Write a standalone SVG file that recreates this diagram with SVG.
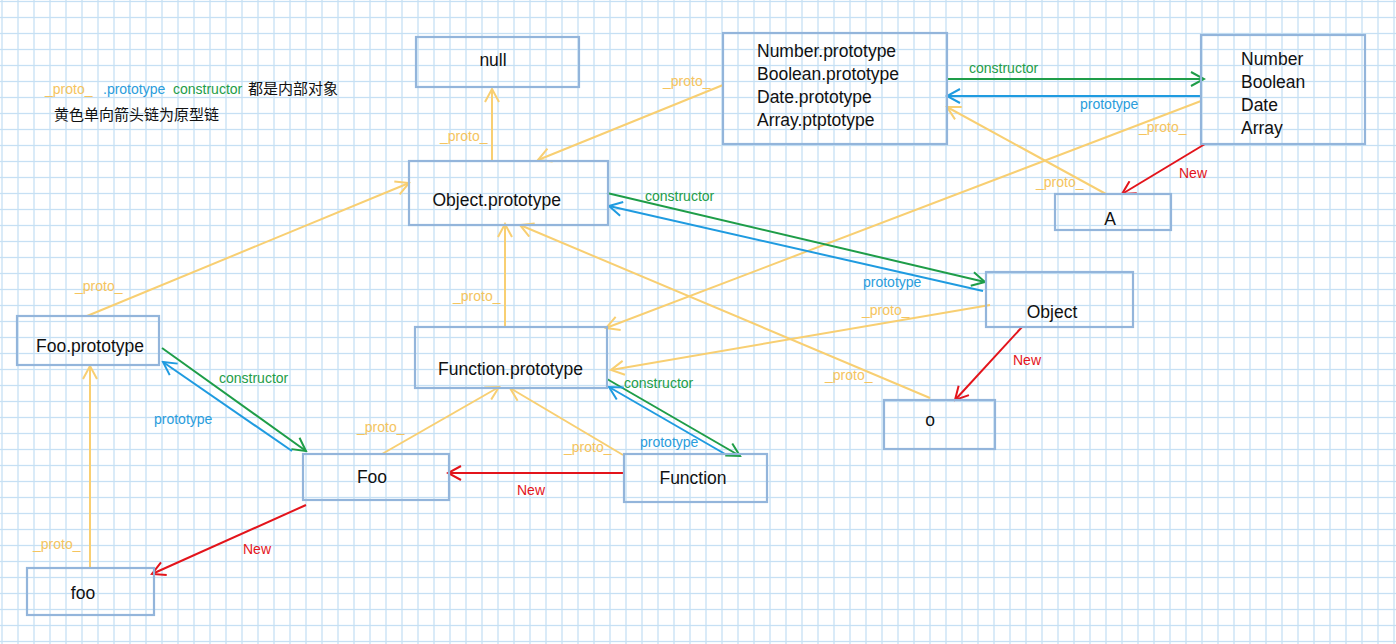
<svg xmlns="http://www.w3.org/2000/svg" width="1396" height="644" viewBox="0 0 1396 644">
<style>
.node rect{fill:none;stroke:#93b5db;stroke-width:2.2}
.node text{font-family:"Liberation Sans","Noto Sans CJK SC",sans-serif;font-size:17.5px;fill:#111}
.c{text-anchor:middle}
.ln{fill:none;stroke-width:2}
.y{stroke:#f8cf72}
.g{stroke:#1e9d48}
.b{stroke:#1f9be0}
.r{stroke:#e3141b}
.lbl{font-family:"Liberation Sans","Noto Sans CJK SC",sans-serif;font-size:14px}
.ty{fill:#f5c45e}
.tg{fill:#1e9d48}
.tb{fill:#2a9ddc}
.tr{fill:#e3141b}
.tk{fill:#111}
.cjk{font-size:15px}
</style>
<defs>
<pattern id="grid" patternUnits="userSpaceOnUse" x="0" y="0" width="16" height="16">
<rect x="1.35" y="0" width="1.3" height="16" fill="#c6e0f4"/>
<rect x="0" y="0.85" width="16" height="1.3" fill="#c6e0f4"/>
</pattern>
<marker id="ay" markerUnits="userSpaceOnUse" markerWidth="16" markerHeight="16" viewBox="0 0 16 16" refX="14" refY="8" orient="auto"><path d="M1,1 L14,8 L1,15" fill="none" stroke="#f8cf72" stroke-width="2"/></marker>
<marker id="ag" markerUnits="userSpaceOnUse" markerWidth="16" markerHeight="16" viewBox="0 0 16 16" refX="14" refY="8" orient="auto"><path d="M1,1 L14,8 L1,15" fill="none" stroke="#1e9d48" stroke-width="2"/></marker>
<marker id="ab" markerUnits="userSpaceOnUse" markerWidth="16" markerHeight="16" viewBox="0 0 16 16" refX="14" refY="8" orient="auto"><path d="M1,1 L14,8 L1,15" fill="none" stroke="#1f9be0" stroke-width="2"/></marker>
<marker id="ar" markerUnits="userSpaceOnUse" markerWidth="16" markerHeight="16" viewBox="0 0 16 16" refX="14" refY="8" orient="auto"><path d="M1,1 L14,8 L1,15" fill="none" stroke="#e3141b" stroke-width="2"/></marker>
</defs>
<rect width="1396" height="644" fill="#ffffff"/>
<rect width="1396" height="644" fill="url(#grid)"/>

<g id="legend" class="lbl">
<text y="94"><tspan x="45" class="ty">_proto_</tspan><tspan x="103" class="tb">.prototype</tspan><tspan x="173" class="tg">constructor</tspan><tspan x="248" class="tk cjk">都是内部对象</tspan></text>
<text x="54" y="120" class="tk cjk">黄色单向箭头链为原型链</text>
</g>

<g id="connectors">
<g id="proto-links">
<line class="ln y" x1="492" y1="160" x2="492" y2="89" marker-end="url(#ay)"/>
<line class="ln y" x1="723" y1="85" x2="538" y2="160" marker-end="url(#ay)"/>
<line class="ln y" x1="1106" y1="194" x2="947" y2="107" marker-end="url(#ay)"/>
<line class="ln y" x1="1201" y1="101" x2="606" y2="328" marker-end="url(#ay)"/>
<line class="ln y" x1="87" y1="316" x2="409" y2="183" marker-end="url(#ay)"/>
<line class="ln y" x1="505" y1="327" x2="505" y2="224" marker-end="url(#ay)"/>
<line class="ln y" x1="930" y1="398" x2="520" y2="225" marker-end="url(#ay)"/>
<line class="ln y" x1="990" y1="305" x2="611" y2="370" marker-end="url(#ay)"/>
<line class="ln y" x1="382" y1="454" x2="499" y2="387" marker-end="url(#ay)"/>
<line class="ln y" x1="623" y1="455" x2="510" y2="388" marker-end="url(#ay)"/>
<line class="ln y" x1="90" y1="568" x2="90" y2="366" marker-end="url(#ay)"/>
</g>
<g id="constructor-links">
<line class="ln g" x1="948" y1="79" x2="1204" y2="79" marker-end="url(#ag)"/>
<line class="ln g" x1="607" y1="193" x2="985" y2="282" marker-end="url(#ag)"/>
<line class="ln g" x1="162" y1="348" x2="306" y2="451" marker-end="url(#ag)"/>
<line class="ln g" x1="607" y1="379" x2="740" y2="456" marker-end="url(#ag)"/>
</g>
<g id="prototype-links">
<line class="ln b" x1="1201" y1="96" x2="947" y2="96" marker-end="url(#ab)"/>
<line class="ln b" x1="983" y1="291" x2="609" y2="206" marker-end="url(#ab)"/>
<line class="ln b" x1="292" y1="451" x2="163" y2="362" marker-end="url(#ab)"/>
<line class="ln b" x1="725" y1="454" x2="609" y2="387" marker-end="url(#ab)"/>
</g>
<g id="new-links">
<line class="ln r" x1="1205" y1="144" x2="1122" y2="194" marker-end="url(#ar)"/>
<line class="ln r" x1="1022" y1="327" x2="955" y2="400" marker-end="url(#ar)"/>
<line class="ln r" x1="624" y1="473" x2="448" y2="473" marker-end="url(#ar)"/>
<line class="ln r" x1="306" y1="505" x2="152" y2="574" marker-end="url(#ar)"/>
</g>
<g id="labels" class="lbl">
<text class="ty" x="440" y="141">_proto_</text>
<text class="ty" x="663" y="86">_proto_</text>
<text class="ty" x="1036" y="187">_proto_</text>
<text class="ty" x="1139" y="132">_proto_</text>
<text class="ty" x="75" y="291">_proto_</text>
<text class="ty" x="453" y="301">_proto_</text>
<text class="ty" x="825" y="380">_proto_</text>
<text class="ty" x="862" y="315">_proto_</text>
<text class="ty" x="357" y="432">_proto_</text>
<text class="ty" x="564" y="452">_proto_</text>
<text class="ty" x="33" y="549">_proto_</text>
<text class="tg" x="969" y="73">constructor</text>
<text class="tg" x="645" y="201">constructor</text>
<text class="tg" x="219" y="383">constructor</text>
<text class="tg" x="624" y="388">constructor</text>
<text class="tb" x="1080" y="109">prototype</text>
<text class="tb" x="863" y="287">prototype</text>
<text class="tb" x="154" y="424">prototype</text>
<text class="tb" x="640" y="447">prototype</text>
<text class="tr" x="1179" y="178">New</text>
<text class="tr" x="1013" y="365">New</text>
<text class="tr" x="517" y="495">New</text>
<text class="tr" x="243" y="554">New</text>
</g>
</g>

<g id="node-null" class="node"><rect x="416" y="37" width="163" height="50"/><text class="c" x="493" y="66">null</text></g>
<g id="node-builtin-prototypes" class="node"><rect x="723" y="33" width="224" height="111"/>
<text x="757" y="57">Number.prototype</text>
<text x="757" y="80">Boolean.prototype</text>
<text x="757" y="103">Date.prototype</text>
<text x="757" y="126">Array.ptptotype</text></g>
<g id="node-builtins" class="node"><rect x="1201" y="35" width="164" height="109"/>
<text x="1241" y="65">Number</text>
<text x="1241" y="88">Boolean</text>
<text x="1241" y="111">Date</text>
<text x="1241" y="134">Array</text></g>
<g id="node-A" class="node"><rect x="1055" y="194" width="116" height="36"/><text class="c" x="1110" y="225">A</text></g>
<g id="node-object-prototype" class="node"><rect x="409" y="161" width="199" height="64"/><text x="432.5" y="206">Object.prototype</text></g>
<g id="node-object" class="node"><rect x="986" y="272" width="147" height="55"/><text class="c" x="1052" y="318">Object</text></g>
<g id="node-o" class="node"><rect x="884" y="400" width="111" height="49"/><text class="c" x="930" y="426">o</text></g>
<g id="node-foo-prototype" class="node"><rect x="17" y="316" width="142" height="49"/><text x="36" y="352">Foo.prototype</text></g>
<g id="node-function-prototype" class="node"><rect x="415" y="327" width="192" height="61"/><text x="438" y="375">Function.prototype</text></g>
<g id="node-Foo" class="node"><rect x="303" y="454" width="146" height="46"/><text class="c" x="372" y="483">Foo</text></g>
<g id="node-Function" class="node"><rect x="624" y="454" width="143" height="48"/><text class="c" x="693" y="484">Function</text></g>
<g id="node-foo" class="node"><rect x="27" y="568" width="127" height="47"/><text class="c" x="83" y="599">foo</text></g>
</svg>
